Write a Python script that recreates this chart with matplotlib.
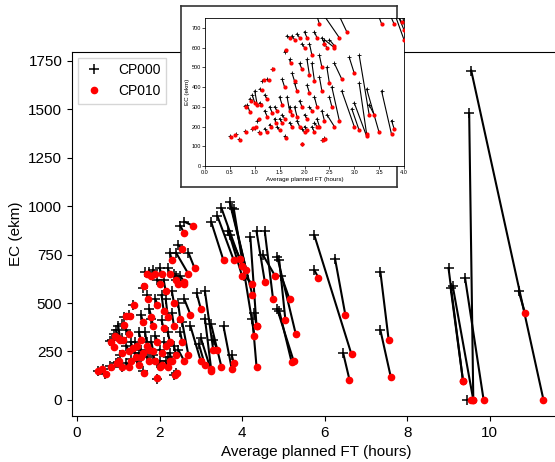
import matplotlib
matplotlib.use("Agg")
import matplotlib.pyplot as plt
import numpy as np

plt.rcParams['font.family'] = ['Liberation Sans', 'DejaVu Sans']

# (CP000 x, CP000 y, CP010 x, CP010 y)
pairs = [
 (9.55,1700,11.3,0),(9.5,1480,9.6,0),(10.7,560,10.85,450),(9.0,680,9.35,100),
 (9.05,580,9.35,100),(9.1,590,9.6,0),(9.4,630,9.85,0),(9.45,0,9.55,0),
 (7.35,660,7.55,310),(7.35,360,7.6,120),(6.25,730,6.5,440),(6.45,240,6.6,105),
 (5.75,850,6.65,235),(5.75,670,5.85,630),(4.85,470,5.25,200),(4.9,460,5.2,195),
 (3.25,920,3.55,720),(3.4,950,3.8,720),(3.5,990,4.0,690),(3.7,1020,4.25,540),
 (3.75,990,4.1,670),(3.8,985,4.3,330),(3.65,870,3.95,730),(3.7,850,4.0,640),
 (4.2,840,4.35,380),(4.35,870,4.55,610),(4.25,420,4.35,170),(4.3,450,4.35,380),
 (4.5,750,4.8,640),(4.85,740,5.3,340),(4.9,720,5.05,410),(4.95,640,5.15,520),
 (4.55,870,4.75,520),(4.05,640,4.25,600),
 (2.5,900,2.6,860),(2.6,920,2.8,900),(2.4,760,2.7,650),(2.7,760,2.85,680),
 (2.9,550,3.0,470),(3.1,560,3.3,260),(3.1,420,3.25,160),(3.25,390,3.5,170),
 (3.55,380,3.75,160),(3.75,230,3.8,190),(3.0,320,3.25,150),(2.75,380,3.0,200),
 (2.95,290,3.1,180),(3.3,310,3.4,260),(2.6,520,2.75,440),(2.4,640,2.6,600),
 (2.55,400,2.7,230),(2.45,260,2.6,200),
 (0.5,150,0.52,148),(0.62,160,0.6,158),(0.68,135,0.7,133),(0.8,175,0.82,172),
 (0.8,305,0.82,300),(0.85,310,0.9,275),(0.9,340,0.92,330),(0.95,190,0.97,192),
 (0.95,360,1.0,320),(1.0,380,1.05,310),(1.0,195,1.02,200),(1.05,230,1.08,240),
 (1.08,170,1.1,168),(1.1,390,1.15,385),(1.15,430,1.18,435),(1.2,360,1.25,340),
 (1.2,280,1.25,250),(1.25,440,1.28,435),(1.3,210,1.32,200),(1.3,300,1.35,270),
 (1.35,490,1.37,490),(1.4,240,1.42,220),(1.45,200,1.5,180),(1.5,350,1.55,310),
 (1.55,440,1.6,400),(1.55,260,1.6,240),(1.6,150,1.62,140),(1.6,580,1.62,590),
 (1.65,660,1.7,650),(1.65,350,1.7,280),(1.7,540,1.72,520),(1.7,220,1.75,200),
 (1.75,470,1.8,430),(1.75,660,1.8,640),(1.8,300,1.85,250),(1.8,420,1.85,380),
 (1.85,670,1.9,650),(1.85,230,1.9,200),(1.9,520,1.95,490),(1.9,330,1.95,300),
 (1.95,110,1.95,112),(1.95,190,2.0,170),(2.0,680,2.05,650),(2.0,260,2.05,240),
 (2.05,540,2.1,460),(2.05,410,2.1,370),(2.1,300,2.15,280),(2.1,620,2.15,560),
 (2.15,200,2.2,170),(2.15,520,2.2,430),(2.2,680,2.25,650),(2.2,350,2.25,300),
 (2.25,240,2.3,200),(2.25,760,2.3,720),(2.3,450,2.35,380),(2.3,560,2.35,500),
 (2.35,130,2.38,130),(2.35,280,2.4,230),(2.4,140,2.42,138),(2.4,620,2.45,600),
 (2.45,500,2.5,420),(2.45,800,2.55,780),(2.5,350,2.55,300),(2.5,640,2.6,610),
 (1.4,300,1.45,280),(1.5,240,1.55,220),(1.7,300,1.75,260),(2.0,200,2.05,180),
 (1.2,190,1.25,170),(1.1,320,1.12,310),(2.2,220,2.25,200),(1.95,620,2.0,600),
 (2.35,650,2.4,620),
]
cp000_x = [p[0] for p in pairs]
cp000_y = [p[1] for p in pairs]
cp010_x = [p[2] for p in pairs]
cp010_y = [p[3] for p in pairs]

fig = plt.figure(figsize=(5.55, 4.62), dpi=100)
W, H = 555, 462
def rect(l, t, r, b):
    return [l / W, 1 - b / H, (r - l) / W, (b - t) / H]

def draw(ax, lw, ms_plus, ms_dot, mew):
    for x0, y0, x1, y1 in zip(cp000_x, cp000_y, cp010_x, cp010_y):
        ax.plot([x0, x1], [y0, y1], color='black', lw=lw, zorder=1)
    ax.plot(cp000_x, cp000_y, '+', color='black', ms=ms_plus, mew=mew, ls='none', label='CP000', zorder=2)
    ax.plot(cp010_x, cp010_y, 'o', color='red', ms=ms_dot, ls='none', label='CP010', zorder=3)

ax = fig.add_axes(rect(72, 52, 560, 416))
draw(ax, 1.5, 7, 4.5, 1.1)
ax.set_xlim(-0.12, 11.7)
ax.set_ylim(-83, 1796)
ax.set_xticks([0, 2, 4, 6, 8, 10])
ax.set_yticks([0, 250, 500, 750, 1000, 1250, 1500, 1750])
ax.spines['right'].set_visible(False)
ax.tick_params(labelsize=11)
ax.set_xlabel('Average planned FT (hours)', fontsize=11)
ax.set_ylabel('EC (ekm)', fontsize=11)
ax.legend(loc='upper left', fontsize=10, handletextpad=1.0, borderpad=0.4,
          handlelength=1.5, borderaxespad=0.4, fancybox=False, edgecolor='#cccccc')

frame = fig.add_axes(rect(181, 6, 397, 187))
frame.set_xticks([]); frame.set_yticks([])
for s in frame.spines.values():
    s.set_color('#333333'); s.set_linewidth(1.2)

ins = fig.add_axes(rect(205, 18, 404, 166))
draw(ins, 0.8, 3, 2, 0.6)
ins.set_xlim(0, 4.0)
ins.set_ylim(0, 750)
ins.set_xticks(np.arange(0, 4.01, 0.5))
ins.set_yticks(range(0, 701, 100))
ins.tick_params(labelsize=4, length=2, width=0.5, pad=1)
ins.set_xlabel('Average planned FT (hours)', fontsize=4.5, labelpad=1)
ins.set_ylabel('EC (ekm)', fontsize=4.5, labelpad=1)
for s in ins.spines.values():
    s.set_linewidth(0.6)

fig.savefig('out.png', dpi=100)
